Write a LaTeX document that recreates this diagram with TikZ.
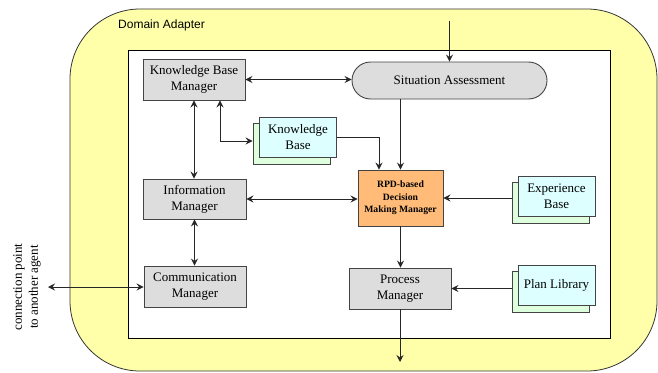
\documentclass[tikz,border=0pt]{standalone}
\usepackage{fontspec}
\setmainfont{Liberation Serif}
\newfontfamily\labelsans{Liberation Sans}
\usetikzlibrary{arrows.meta}
\definecolor{padyellow}{HTML}{FFFFAA}
\definecolor{boxgray}{HTML}{DDDDDD}
\definecolor{rpdorange}{HTML}{FFBB77}
\definecolor{doccyan}{HTML}{DDFFFF}
\definecolor{docgreen}{HTML}{DDFFDD}
\definecolor{edgegray}{HTML}{444444}
\begin{document}
\begin{tikzpicture}[x=1pt,y=-1pt,
  box/.style={draw=edgegray, line width=0.9pt, fill=boxgray, inner sep=0pt, align=center,
    font=\fontsize{13}{16}\selectfont},
  docfront/.style={draw=edgegray, line width=0.9pt, fill=doccyan, inner sep=0pt, align=center,
    minimum width=77pt, minimum height=40pt, font=\fontsize{13}{16}\selectfont},
  docback/.style={draw=edgegray, line width=0.9pt, fill=docgreen, inner sep=0pt,
    minimum width=77pt, minimum height=41pt},
  arr/.style={draw=black!85, line width=0.9pt, -{Stealth[length=7pt,width=7pt,inset=2.5pt]}},
  dbl/.style={draw=black!85, line width=0.9pt, {Stealth[length=7pt,width=7pt,inset=2.5pt]}-{Stealth[length=7pt,width=7pt,inset=2.5pt]}}
]
\useasboundingbox (0,0) rectangle (658,372);
% outer adapter
\draw[fill=padyellow, draw=black!80, line width=0.8pt, rounded corners=70pt] (70,9) rectangle (657,371);
\node[anchor=west, font=\labelsans\fontsize{12}{14}\selectfont, inner sep=0pt] (da) at (118,25) {Domain Adapter};
% inner area
\draw[fill=white, draw=black, line width=0.9pt] (128,50) rectangle (610,338);

% nodes
\node[box, minimum width=102pt, minimum height=41pt] (kbm) at (194,79.5) {Knowledge Base\\Manager};
\node[box, rounded corners=18.5pt, minimum width=195pt, minimum height=37pt] (sa) at (449.5,80.5) {Situation Assessment};
\node[docback] (kbback) at (291.5,143.5) {};
\node[docfront] (kb) at (298,137) {Knowledge\\Base};
\node[box, minimum width=103pt, minimum height=40pt] (im) at (194.5,199) {Information\\Manager};
\node[box, minimum width=102pt, minimum height=41pt] (cm) at (195,286.5) {Communication\\Manager};
\node[box, fill=rpdorange, minimum width=85pt, minimum height=56pt,
  font=\bfseries\fontsize{9.7}{12.5}\selectfont] (rpd) at (400.5,198) {RPD-based\\Decision\\Making Manager};
\node[docback] (ebback) at (550.5,202.5) {};
\node[docfront] (eb) at (556.5,196) {Experience\\Base};
\node[box, minimum width=102pt, minimum height=41pt] (pm) at (400,288.5) {Process\\Manager};
\node[docback] (plback) at (550.5,292) {};
\node[docfront] (pl) at (556.5,285.5) {Plan Library};

\node[rotate=90, align=center, inner sep=0pt, font=\fontsize{13}{16}\selectfont] (conn) at (27,287) {connection point\\to another agent};

\coordinate (topin) at (449.5,21);
\coordinate (ext) at (48,287);
\coordinate (botout) at (400.5,362);

% connectors
\draw[arr] (topin) -- (sa.north);
\draw[dbl] (kbm.east) -- (kbm.east -| sa.west);
\draw[dbl] (kbm.south) -- (kbm.south |- im.north);
\draw[dbl] ([xshift=26pt]kbm.south) |- ([yshift=2.5pt]kbback.west);
\draw[arr] (kb.east) -| ([xshift=-21.5pt]rpd.north);
\draw[arr] (rpd.north |- sa.south) -- (rpd.north);
\draw[dbl] (im.east) -- (im.east -| rpd.west);
\draw[arr] (ebback.west |- rpd.east) -- (rpd.east);
\draw[arr] (rpd.south) -- (rpd.south |- pm.north);
\draw[dbl] (im.south) -- (im.south |- cm.north);
\draw[dbl] (ext) -- (ext -| cm.west);
\draw[arr] (plback.west |- pm.east) -- (pm.east);
\draw[arr] (pm.south) -- (pm.south |- botout);
\end{tikzpicture}
\end{document}
